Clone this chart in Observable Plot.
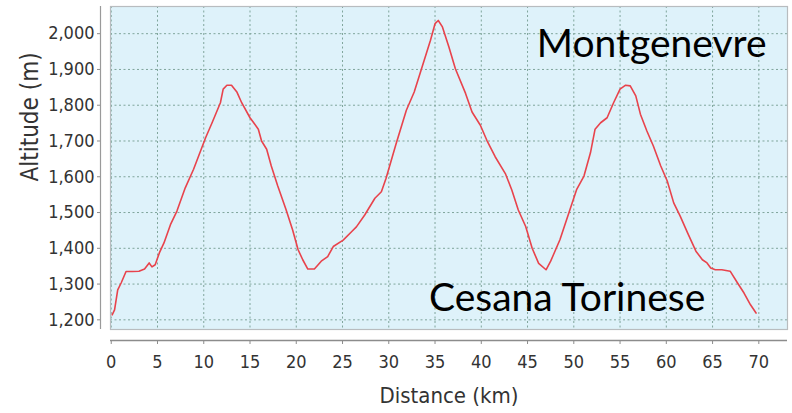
<!DOCTYPE html>
<html>
<head>
<meta charset="utf-8">
<script src="https://cdn.jsdelivr.net/npm/d3@7"></script>
<script src="https://cdn.jsdelivr.net/npm/@observablehq/plot@0.6"></script>
<style>
  html, body { margin: 0; padding: 0; background: #ffffff; }
  #chart svg { display: block; }
</style>
</head>
<body>
<div id="chart"></div>
<script>
// Distance along the route (km) and altitude (m), read from the profile
const distanceKm = [
  0.1, 0.36, 0.7, 1.07, 1.6, 2.3, 3.0, 3.6, 4.1, 4.4, 4.75, 5.2, 5.7, 6.4, 7.1, 8.0, 8.9,
  10.2, 10.9, 11.8, 12.1, 12.5, 13.0, 13.6, 14.1, 15.0, 15.9, 16.25, 16.8, 17.3, 18.0, 18.9,
  19.6, 20.2, 20.7, 21.25, 21.96, 22.7, 23.4, 24.0, 25.07, 26.0, 26.5, 27.4, 28.5, 29.2,
  29.7, 30.8, 31.9, 32.75, 33.6, 34.5, 35.0, 35.35, 35.8, 36.5, 37.2, 38.3, 39.0, 39.9,
  40.6, 41.5, 42.6, 43.3, 44.0, 44.8, 45.5, 46.2, 47.0, 47.5, 47.8, 48.5, 49.4, 50.3,
  51.1, 51.8, 52.3, 52.9, 53.6, 54.3, 55.0, 55.6, 56.1, 56.7, 57.2, 57.9, 58.6, 59.4,
  60.1, 60.8, 61.5, 62.3, 63.2, 63.9, 64.4, 64.8, 65.3, 66.0, 66.9, 67.7, 68.4, 69.1, 69.7
];
const altitudeM = [
  1214, 1228, 1284, 1303, 1335, 1335, 1336, 1342, 1359, 1348, 1354, 1387, 1415, 1466, 1504, 1569, 1621,
  1709, 1751, 1807, 1845, 1856, 1856, 1836, 1807, 1765, 1733, 1700, 1677, 1630, 1574, 1508,
  1452, 1396, 1368, 1342, 1342, 1364, 1377, 1405, 1423, 1447, 1460, 1493, 1540, 1558,
  1595, 1693, 1786, 1837, 1907, 1981, 2028, 2037, 2019, 1963, 1902, 1833, 1781, 1744,
  1702, 1656, 1609, 1563, 1507, 1461, 1400, 1358, 1340, 1364, 1382, 1424, 1494, 1564,
  1602, 1667, 1733, 1751, 1765, 1807, 1845, 1856, 1854, 1826, 1775, 1728, 1686, 1630,
  1588, 1527, 1490, 1443, 1392, 1368, 1359, 1345, 1340, 1340, 1336, 1303, 1275, 1242, 1219
];

const xTicks = [0, 5, 10, 15, 20, 25, 30, 35, 40, 45, 50, 55, 60, 65, 70];
const yTicks = [1200, 1300, 1400, 1500, 1600, 1700, 1800, 1900, 2000];
const xDomain = [-0.08, 73.1];
const yDomain = [1173, 2076];

const placeNames = ["Montgenevre", "Cesana Torinese"];
const placeKm = [46.0, 34.35];
const placeAlt = [1934, 1226];

const xTitle = "Distance (km)";
const yTitle = "Altitude (m)";

const profile = distanceKm.map((d, i) => ({km: d, alt: altitudeM[i]}));
const places = placeNames.map((n, i) => ({name: n, km: placeKm[i], alt: placeAlt[i]}));

const axisFont = "'DejaVu Sans Condensed', 'DejaVu Sans', sans-serif";
const gridColor = "#7fa59b";

const chart = Plot.plot({
  width: 792,
  height: 413,
  marginLeft: 110,
  marginRight: 5,
  marginTop: 6,
  marginBottom: 84,
  style: {fontFamily: axisFont, background: "#ffffff", overflow: "visible"},
  x: {domain: xDomain},
  y: {domain: yDomain},
  marks: [
    Plot.frame({fill: "#def2fa", stroke: null}),
    Plot.gridX(xTicks, {stroke: gridColor, strokeOpacity: 1, strokeDasharray: "2,2.5", strokeWidth: 1}),
    Plot.gridY(yTicks, {stroke: gridColor, strokeOpacity: 1, strokeDasharray: "2,2.5", strokeWidth: 1}),
    Plot.frame({stroke: "#b8bcbf", strokeWidth: 1.2}),
    // axis lines offset from the plot area
    Plot.ruleY([yDomain[0]], {dy: 11, stroke: "#8c8c8c", strokeWidth: 1.5}),
    Plot.ruleX([xDomain[0]], {dx: -10, stroke: "#9a9a9a", strokeWidth: 1.2}),
    Plot.axisX(xTicks, {
      dy: 11, tickSize: 4, tickPadding: 11, stroke: "#8c8c8c",
      fill: "#333", fontSize: 18, label: null, tickFormat: d => String(d)
    }),
    Plot.axisY(yTicks, {
      dx: -10, tickSize: 3, tickPadding: 3, stroke: "#8c8c8c",
      fill: "#333", fontSize: 18, label: null, tickFormat: d3.format(",")
    }),
    Plot.text([xTitle], {
      frameAnchor: "bottom", lineAnchor: "bottom", dy: 73,
      fontSize: 22, fill: "#333", fontFamily: axisFont
    }),
    Plot.text([yTitle], {
      frameAnchor: "left", rotate: -90, dx: -80, dy: 13.5,
      fontSize: 24, fill: "#333", fontFamily: axisFont
    }),
    Plot.line(profile, {x: "km", y: "alt", stroke: "#e8434c", strokeWidth: 1.6, curve: "linear"}),
    Plot.text(places, {
      x: "km", y: "alt", text: "name", textAnchor: "start", lineAnchor: "bottom",
      fontSize: 39, fill: "#000", fontFamily: "Lato, 'Open Sans', sans-serif"
    })
  ]
});

document.getElementById("chart").appendChild(chart);
</script>
</body>
</html>
